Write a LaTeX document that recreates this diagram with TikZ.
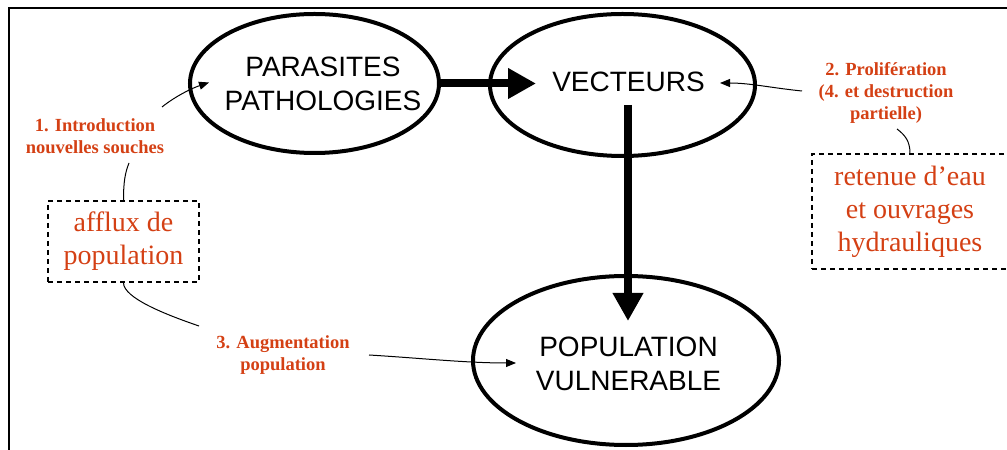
\documentclass[tikz,border=0pt]{standalone}
\usepackage{fontspec}
\setmainfont{Liberation Serif}
\newfontfamily\arialfont{Liberation Sans}
\usetikzlibrary{shapes.geometric,arrows.meta}
\definecolor{labred}{RGB}{212,64,20}
\begin{document}
\begin{tikzpicture}[x=1bp,y=-1bp,
  bubble/.style={ellipse, draw, line width=4bp, inner sep=0pt},
  bubtext/.style={font=\arialfont\fontsize{28bp}{34bp}\selectfont, align=center, inner sep=0pt},
  steplabel/.style={font=\fontsize{18.5bp}{22bp}\selectfont\bfseries, text=labred, align=center, inner sep=0pt},
  sourcebox/.style={draw, dash pattern=on 5bp off 4bp, line width=1.5bp, text=labred,
    font=\fontsize{28bp}{33bp}\selectfont, align=center, inner sep=0pt},
  bigarrow/.style={line width=8bp, -{Triangle[length=28bp,width=29bp]}},
  link/.style={line width=1bp},
  linkarrow/.style={line width=1bp, -{Triangle[length=10bp,width=8bp]}},
  frameline/.style={line width=2.2bp}
]
\useasboundingbox (0,0) rectangle (1007,450);

% outer frame (only its top and left sides fall on the page)
\draw[frameline] (9,452) -- (9,8) -- (1009,8);

% main ellipses
\node[bubble, minimum width=249bp, minimum height=139bp] (par) at (314.5,83.5) {};
\node[bubble, minimum width=265bp, minimum height=142bp] (vec) at (622.5,85) {};
\node[bubble, minimum width=306bp, minimum height=169bp] (pop) at (626,360.5) {};

\node[bubtext] (partxt) at (323,83.5) {PARASITES\\PATHOLOGIES};
\node[bubtext] (vectxt) at (628.5,82) {VECTEURS};
\node[bubtext] (poptxt) at (628.5,363.5) {POPULATION\\VULNERABLE};

% numbered step labels
\node[steplabel] (lab1) at (95,136.5) {1. Introduction\\nouvelles souches};
\node[steplabel] (lab2) at (886,92.5) {2. Prolifération\\(4. et destruction\\partielle)};
\node[steplabel] (lab3) at (283,355) {3. Augmentation\\population};

% dashed source boxes
\node[sourcebox, minimum width=151bp, minimum height=81bp] (afflux) at (123.5,241.5) {afflux de\\population};
\node[sourcebox, minimum width=196bp, minimum height=115bp] (ret) at (910,211.5) {retenue d’eau\\et ouvrages\\hydrauliques};

% bend points where the thin links meet the labels
\coordinate (c1a) at (129,163);
\coordinate (c1b) at (162,107);
\coordinate (c2a) at (897,129);
\coordinate (c2b) at (802,91);
\coordinate (c3a) at (199,326);
\coordinate (c3b) at (369,355);

% thin links
\draw[link] (afflux.north) .. controls +(0,-18) and +(-4,10) .. (c1a);
\draw[linkarrow] (c1b) .. controls +(15,-12) and +(-15,5) .. ([xshift=21bp,yshift=1bp]par.west);

\draw[link] (ret.north) .. controls +(0,-12) and +(8,6) .. (c2a);
\draw[linkarrow] (c2b) .. controls +(-30,-3) and +(30,0) .. ([xshift=-37bp,yshift=2bp]vec.east);

\draw[link] (afflux.south) .. controls +(0,15) and +(-35,-12) .. (c3a);
\draw[linkarrow] (c3b) .. controls +(50,3) and +(-50,0) .. ([xshift=45bp,yshift=-2.5bp]pop.west);

% thick arrows
\coordinate (htip) at ([xshift=48bp]vec.west);
\draw[bigarrow] (par.east) -- (par.east -| htip);
\coordinate (vtop) at ([xshift=5.5bp,yshift=-20bp]vec.center);
\coordinate (vtip) at ([yshift=-47bp]pop.north);
\draw[bigarrow] (vtop) -- (vtop |- vtip);
\end{tikzpicture}
\end{document}
